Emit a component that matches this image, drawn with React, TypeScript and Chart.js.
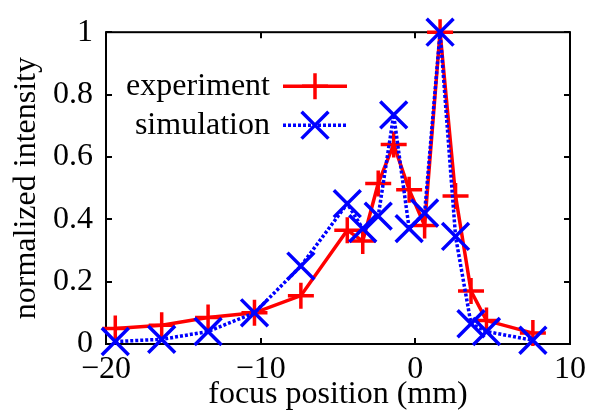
import { useEffect, useRef } from 'react';
import { Chart, registerables } from 'chart.js';

Chart.register(...registerables);

// Focus positions (mm) shared by both series
const focusPositions = [-19.4, -16.4, -13.4, -10.4, -7.4, -4.4, -3.4, -2.4, -1.4, -0.4, 0.6, 1.6, 2.6, 3.6, 4.6, 7.6];
// Normalized intensity, measured
const experiment = [0.05, 0.06, 0.085, 0.1, 0.155, 0.365, 0.33, 0.515, 0.64, 0.495, 0.38, 1.0, 0.475, 0.17, 0.075, 0.035];
// Normalized intensity, simulated
const simulation = [0.008, 0.015, 0.04, 0.1, 0.25, 0.45, 0.37, 0.41, 0.735, 0.37, 0.42, 1.0, 0.345, 0.065, 0.04, 0.012];

const seriesNames = ['experiment', 'simulation'];
const xTicks = [-20, -10, 0, 10];
const xTickLabels = ['\u221220', '\u221210', '0', '10'];
const yTicks = [0, 0.2, 0.4, 0.6, 0.8, 1];
const yTickLabels = ['0', '0.2', '0.4', '0.6', '0.8', '1'];

const FONT = "'Liberation Serif', 'Times New Roman', serif";
const FONT_SIZE = 32;
const TICK_LEN = 6;

// Black frame with inward tick marks on all four sides
const framePlugin = {
  id: 'frame',
  beforeDatasetsDraw(chart: any) {
    const { ctx, chartArea, scales } = chart;
    const { left, right, top, bottom } = chartArea;
    ctx.save();
    ctx.strokeStyle = '#000';
    ctx.lineWidth = 2;
    ctx.lineCap = 'butt';
    ctx.beginPath();
    xTicks.forEach((v) => {
      const px = Math.round(scales.x.getPixelForValue(v));
      ctx.moveTo(px, bottom);
      ctx.lineTo(px, bottom - TICK_LEN);
      ctx.moveTo(px, top);
      ctx.lineTo(px, top + TICK_LEN);
    });
    yTicks.forEach((v) => {
      const py = Math.round(scales.y.getPixelForValue(v));
      ctx.moveTo(left, py);
      ctx.lineTo(left + TICK_LEN, py);
      ctx.moveTo(right, py);
      ctx.lineTo(right - TICK_LEN, py);
    });
    ctx.stroke();
    ctx.strokeRect(left, top, right - left, bottom - top);
    ctx.restore();
  },
};

function drawMarker(ctx: CanvasRenderingContext2D, style: string, x: number, y: number, r: number) {
  ctx.beginPath();
  if (style === 'cross') {
    ctx.moveTo(x - r, y);
    ctx.lineTo(x + r, y);
    ctx.moveTo(x, y - r);
    ctx.lineTo(x, y + r);
  } else {
    const d = r * Math.SQRT1_2;
    ctx.moveTo(x - d, y - d);
    ctx.lineTo(x + d, y + d);
    ctx.moveTo(x - d, y + d);
    ctx.lineTo(x + d, y - d);
  }
  ctx.stroke();
}

// Key in the upper-left corner: right-aligned label, line sample and marker
const keyPlugin = {
  id: 'key',
  afterDatasetsDraw(chart: any) {
    const { ctx, chartArea } = chart;
    const textRight = chartArea.left + 164;
    const sampleLeft = chartArea.left + 177;
    const sampleRight = chartArea.left + 241;
    const rows = [chartArea.top + 54, chartArea.top + 93];
    ctx.save();
    chart.data.datasets.forEach((ds: any, i: number) => {
      const y = rows[i];
      ctx.font = `${FONT_SIZE}px ${FONT}`;
      ctx.fillStyle = '#000';
      ctx.textAlign = 'right';
      ctx.textBaseline = 'alphabetic';
      ctx.fillText(ds.label, textRight, y + 9);
      ctx.strokeStyle = ds.borderColor;
      ctx.lineWidth = ds.borderWidth;
      ctx.setLineDash(ds.borderDash || []);
      ctx.beginPath();
      ctx.moveTo(sampleLeft, y);
      ctx.lineTo(sampleRight, y);
      ctx.stroke();
      ctx.setLineDash([]);
      ctx.lineWidth = ds.pointBorderWidth;
      drawMarker(ctx, ds.pointStyle, (sampleLeft + sampleRight) / 2, y, ds.pointRadius);
    });
    ctx.restore();
  },
};

export default function App() {
  const canvasRef = useRef<HTMLCanvasElement | null>(null);

  useEffect(() => {
    const canvas = canvasRef.current;
    if (!canvas) return;
    const chart = new Chart(canvas, {
      type: 'line',
      data: {
        datasets: [
          {
            label: seriesNames[0],
            data: focusPositions.map((x, i) => ({ x, y: experiment[i] })),
            borderColor: '#ff0000',
            backgroundColor: '#ff0000',
            borderWidth: 3.5,
            pointStyle: 'cross',
            pointRadius: 13,
            pointBorderWidth: 3.5,
            pointBorderColor: '#ff0000',
            pointHoverRadius: 13,
            tension: 0,
            clip: false,
            order: 1,
          },
          {
            label: seriesNames[1],
            data: focusPositions.map((x, i) => ({ x, y: simulation[i] })),
            borderColor: '#0000ff',
            backgroundColor: '#0000ff',
            borderWidth: 3.5,
            borderDash: [3, 2],
            pointStyle: 'crossRot',
            pointRadius: 19,
            pointBorderWidth: 3.5,
            pointBorderColor: '#0000ff',
            pointHoverRadius: 19,
            tension: 0,
            clip: false,
            order: 0,
          },
        ] as any,
      },
      options: {
        animation: false,
        responsive: false,
        devicePixelRatio: 1,
        events: [],
        layout: { padding: { left: 0, top: 19, right: 39, bottom: 0 } },
        plugins: {
          legend: { display: false },
          tooltip: { enabled: false },
        },
        scales: {
          x: {
            type: 'linear',
            min: -20,
            max: 10,
            grid: { display: false, drawTicks: false },
            border: { display: false },
            afterFit: (scale: any) => {
              scale.height = 70;
            },
            afterBuildTicks: (scale: any) => {
              scale.ticks = xTicks.map((value) => ({ value }));
            },
            ticks: {
              padding: 6,
              maxRotation: 0,
              autoSkip: false,
              color: '#000',
              font: { family: FONT, size: FONT_SIZE },
              callback: (value: any) => xTickLabels[xTicks.indexOf(Number(value))] ?? '',
            },
            title: {
              display: true,
              text: 'focus position (mm)',
              color: '#000',
              font: { family: FONT, size: FONT_SIZE },
              padding: { top: 0, bottom: 0 },
            },
          },
          y: {
            type: 'linear',
            min: 0,
            max: 1,
            grid: { display: false, drawTicks: false },
            border: { display: false },
            afterFit: (scale: any) => {
              scale.width = 106;
            },
            afterBuildTicks: (scale: any) => {
              scale.ticks = yTicks.map((value) => ({ value }));
            },
            ticks: {
              padding: 13,
              autoSkip: false,
              color: '#000',
              font: { family: FONT, size: FONT_SIZE },
              callback: (value: any) => {
                const i = yTicks.findIndex((t) => Math.abs(t - Number(value)) < 1e-9);
                return i >= 0 ? yTickLabels[i] : '';
              },
            },
            title: {
              display: true,
              text: 'normalized intensity',
              color: '#000',
              font: { family: FONT, size: FONT_SIZE },
              padding: { top: 7, bottom: 0 },
            },
          },
        },
      } as any,
      plugins: [framePlugin, keyPlugin],
    });
    return () => chart.destroy();
  }, []);

  return (
    <div style={{ position: 'fixed', left: 0, top: 0, width: 609, height: 414, background: '#fff' }}>
      <canvas ref={canvasRef} width={609} height={414} style={{ width: 609, height: 414, display: 'block' }} />
    </div>
  );
}
